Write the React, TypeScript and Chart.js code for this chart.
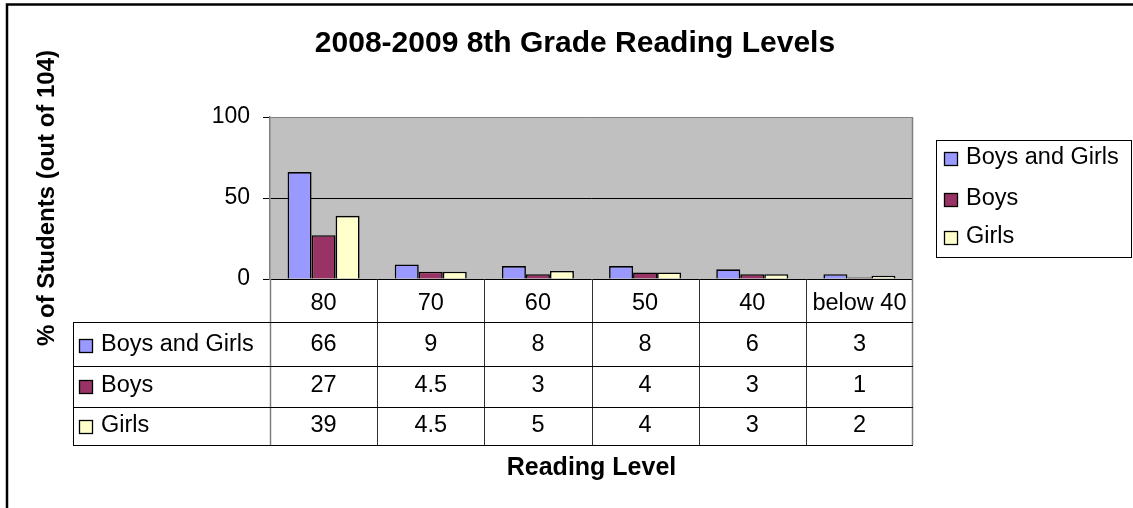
import React, { useEffect, useRef } from 'react';
import { Chart, registerables } from 'chart.js';

Chart.register(...registerables);

// ---- data ----
const TITLE = '2008-2009 8th Grade Reading Levels';
const Y_TITLE = '% of Students (out of 104)';
const X_TITLE = 'Reading Level';
const categories = ['80', '70', '60', '50', '40', 'below 40'];
const seriesNames = ['Boys and Girls', 'Boys', 'Girls'];
const boysAndGirls = [66, 9, 8, 8, 6, 3];
const boys = [27, 4.5, 3, 4, 3, 1];
const girls = [39, 4.5, 5, 4, 3, 2];
const yTicks = [0, 50, 100];
const seriesColors = ['#9999FF', '#993366', '#FFFFCC'];

const FONT = "'Liberation Sans', Arial, Helvetica, sans-serif";
const W = 1133;
const H = 508;

// layout constants
const TABLE_LEFT = 73;
const TABLE_ROWS = [322, 366, 407, 445];
const ROW_TEXT_Y = [345, 386, 426];
const LEGEND_BOX = { x: 936, y: 140, w: 195, h: 117 };
const LEGEND_ROW_Y = [158, 199, 237];

const seriesValues = [boysAndGirls, boys, girls];

const decorPlugin = {
  id: 'decor',
  beforeDraw(chart: any) {
    const { ctx, chartArea: a } = chart;
    ctx.save();
    ctx.fillStyle = '#C0C0C0';
    ctx.fillRect(a.left, a.top, a.right - a.left, a.bottom - a.top);
    ctx.restore();
  },
  afterDraw(chart: any) {
    const { ctx, chartArea: a } = chart;
    const xs = chart.scales.x;
    const n = categories.length;
    const bounds: number[] = [];
    for (let i = 0; i <= n; i++) {
      if (i === 0) bounds.push(a.left);
      else if (i === n) bounds.push(a.right);
      else bounds.push((xs.getPixelForValue(i - 1) + xs.getPixelForValue(i)) / 2);
    }
    const tableBottom = TABLE_ROWS[TABLE_ROWS.length - 1];
    ctx.save();
    ctx.lineWidth = 1;

    // vertical lines of the category axis / table
    for (let i = 1; i < n; i++) {
      const xx = Math.round(bounds[i]) + 0.5;
      ctx.strokeStyle = '#303030';
      ctx.beginPath();
      ctx.moveTo(xx, a.bottom);
      ctx.lineTo(xx, tableBottom);
      ctx.stroke();
    }
    ctx.strokeStyle = '#808080';
    ctx.lineWidth = 1.5;
    ctx.beginPath();
    ctx.moveTo(Math.round(a.left) + 0.5, a.bottom);
    ctx.lineTo(Math.round(a.left) + 0.5, tableBottom);
    ctx.stroke();
    ctx.beginPath();
    ctx.moveTo(Math.round(a.right) - 0.5, a.top);
    ctx.lineTo(Math.round(a.right) - 0.5, tableBottom);
    ctx.stroke();
    ctx.lineWidth = 1;

    // horizontal table lines
    ctx.strokeStyle = '#000';
    TABLE_ROWS.forEach((y) => {
      ctx.beginPath();
      ctx.moveTo(TABLE_LEFT, y + 0.5);
      ctx.lineTo(a.right, y + 0.5);
      ctx.stroke();
    });
    ctx.beginPath();
    ctx.moveTo(TABLE_LEFT + 0.5, TABLE_ROWS[0]);
    ctx.lineTo(TABLE_LEFT + 0.5, tableBottom + 1);
    ctx.stroke();

    // table text
    ctx.font = `23.5px ${FONT}`;
    ctx.fillStyle = '#000';
    ctx.textBaseline = 'middle';
    seriesValues.forEach((vals, s) => {
      const y = ROW_TEXT_Y[s];
      ctx.textAlign = 'center';
      vals.forEach((v, i) => {
        ctx.fillText(String(v), (bounds[i] + bounds[i + 1]) / 2, y);
      });
      // row label
      ctx.fillStyle = seriesColors[s];
      ctx.fillRect(79.5, y - 5.5, 13, 13);
      ctx.strokeStyle = '#000';
      ctx.lineWidth = 1.3;
      ctx.strokeRect(79.5, y - 5.5, 13, 13);
      ctx.lineWidth = 1;
      ctx.fillStyle = '#000';
      ctx.textAlign = 'left';
      ctx.fillText(seriesNames[s], 101, y);
    });

    // legend
    ctx.strokeStyle = '#000';
    ctx.strokeRect(LEGEND_BOX.x + 0.5, LEGEND_BOX.y + 0.5, LEGEND_BOX.w, LEGEND_BOX.h);
    seriesNames.forEach((name, s) => {
      const y = LEGEND_ROW_Y[s];
      ctx.fillStyle = seriesColors[s];
      ctx.fillRect(944.5, y - 5.5, 13, 13);
      ctx.lineWidth = 1.3;
      ctx.strokeRect(944.5, y - 5.5, 13, 13);
      ctx.lineWidth = 1;
      ctx.fillStyle = '#000';
      ctx.textAlign = 'left';
      ctx.fillText(name, 966, y);
    });

    // main title
    ctx.font = `bold 30px ${FONT}`;
    ctx.textAlign = 'center';
    ctx.textBaseline = 'alphabetic';
    ctx.fillText(TITLE, 575, 52);

    // outer frame
    ctx.lineWidth = 2.5;
    ctx.strokeStyle = '#000';
    ctx.strokeRect(7, 4.5, 1400, 800);
    ctx.restore();
  },
};

export default function App() {
  const ref = useRef<HTMLCanvasElement>(null);
  useEffect(() => {
    const datasets = seriesNames.map((name, s) => ({
      label: name,
      data: seriesValues[s],
      backgroundColor: seriesColors[s],
      borderColor: '#000',
      borderWidth: 1.6,
      categoryPercentage: 0.672,
      barPercentage: 1,
    }));
    const chart = new Chart(ref.current as HTMLCanvasElement, {
      type: 'bar',
      data: { labels: categories, datasets },
      options: {
        responsive: false,
        animation: false,
        devicePixelRatio: 1,
        layout: { padding: { top: 117, right: 220, left: 0, bottom: 0 } },
        plugins: {
          legend: { display: false },
          title: { display: false },
          tooltip: { enabled: false },
        },
        scales: {
          x: {
            type: 'category',
            grid: { display: false },
            border: { display: false },
            ticks: {
              color: '#000',
              font: { family: FONT, size: 23.5 },
              padding: 2,
              maxRotation: 0,
              autoSkip: false,
            },
            title: {
              display: true,
              text: X_TITLE,
              color: '#000',
              font: { family: FONT, size: 25, weight: 'bold' },
              padding: { top: 0, bottom: 25 },
            },
            afterFit: (s: any) => {
              s.height = H - 279;
            },
          },
          y: {
            min: 0,
            max: 100,
            afterBuildTicks: (s: any) => {
              s.ticks = yTicks.map((v) => ({ value: v }));
            },
            grid: {
              color: (c: any) => (c.tick && c.tick.value === 100 ? '#808080' : '#000'),
              tickColor: '#000',
              tickLength: 7,
              lineWidth: 1,
            },
            border: { color: '#808080', width: 1.5 },
            ticks: {
              color: '#000',
              font: { family: FONT, size: 23 },
              padding: 13,
            },
            title: {
              display: true,
              text: Y_TITLE,
              color: '#000',
              font: { family: FONT, size: 24, weight: 'bold' },
              padding: { top: 33, bottom: 0 },
            },
            afterFit: (s: any) => {
              s.width = 270;
            },
          },
        },
      },
      plugins: [decorPlugin],
    } as any);
    return () => chart.destroy();
  }, []);
  return (
    <div style={{ position: 'fixed', left: 0, top: 0, width: W, height: H, background: '#fff' }}>
      <canvas ref={ref} width={W} height={H} style={{ display: 'block', width: W, height: H }} />
    </div>
  );
}
